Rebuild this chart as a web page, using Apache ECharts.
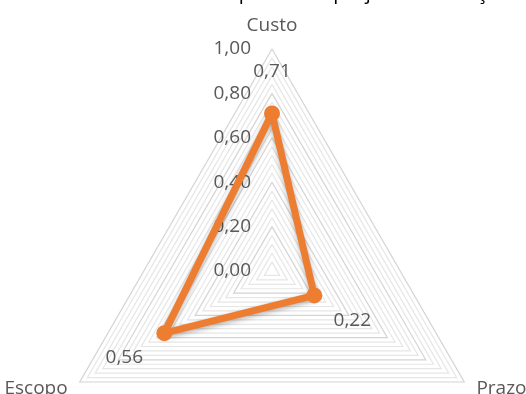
<!DOCTYPE html>
<html>
<head>
<meta charset="utf-8">
<script src="https://cdn.jsdelivr.net/npm/echarts@6/dist/echarts.min.js"></script>
<style>
  html, body { margin: 0; padding: 0; background: #fff; }
  #chart { width: 526px; height: 394px; }
</style>
</head>
<body>
<div id="chart"></div>
<script>
  const TITLE = 'Indicadores de desempenho do projeto em relação ao planejado';
  const INDICATORS = ['Custo', 'Escopo', 'Prazo'];
  const VALUES = [0.71, 0.56, 0.22];
  const TICKS = [0, 0.2, 0.4, 0.6, 0.8, 1.0];
  // where each data label sits relative to its point (rich key per indicator)
  const LABEL_KEYS = ['up', 'downLeft', 'downRight'];

  const fmt = v => v.toFixed(2).replace('.', ',');
  const FONT = '"Open Sans", "Noto Sans", sans-serif';
  const GRAY = '#595959';

  const C = [272, 271];
  const R = 222;

  // 0.04 steps, darker ring every 0.20
  const splitColors = ['#d4d4d4', '#e6e6e6', '#e6e6e6', '#e6e6e6', '#e6e6e6'];

  let chart = echarts.init(document.getElementById('chart'));
  let option = {
    backgroundColor: '#fff',
    animation: false,
    graphic: [{
      type: 'text',
      left: 33,
      top: -17,
      style: { text: TITLE, font: '20px ' + FONT, fill: '#000' }
    }],
    radar: {
      center: C,
      radius: R,
      startAngle: 90,
      shape: 'polygon',
      splitNumber: 25,
      indicator: INDICATORS.map(n => ({ name: n, min: 0, max: 1 })),
      nameGap: 14,
      axisName: { color: GRAY, fontSize: 19, fontFamily: FONT },
      axisLine: { show: false },
      axisTick: { show: false },
      axisLabel: { show: false },
      splitArea: { show: false },
      splitLine: { lineStyle: { color: splitColors, width: 1.2 } }
    },
    // vertical value axis along the Custo spoke, only used for its tick labels
    grid: { left: C[0] - 14, top: C[1] - R, width: 10, height: R },
    xAxis: { type: 'value', show: false },
    yAxis: {
      type: 'value',
      min: TICKS[0],
      max: TICKS[TICKS.length - 1],
      interval: 0.2,
      axisLine: { show: false },
      axisTick: { show: false },
      splitLine: { show: false },
      axisLabel: {
        margin: 7,
        color: GRAY,
        fontSize: 19,
        fontFamily: FONT,
        formatter: v => fmt(v)
      }
    },
    series: [{
      type: 'radar',
      symbol: 'circle',
      symbolSize: 16,
      itemStyle: { color: '#ED7D31' },
      lineStyle: {
        color: '#ED7D31',
        width: 7,
        shadowBlur: 5,
        shadowColor: 'rgba(0,0,0,0.3)',
        shadowOffsetY: 2
      },
      label: {
        show: true,
        position: 'inside',
        formatter: p => {
          const i = VALUES.indexOf(p.value);
          return '{' + LABEL_KEYS[i] + '|' + fmt(p.value) + '}';
        },
        rich: {
          up: { color: GRAY, fontSize: 19, fontFamily: FONT, padding: [0, 0, 84, 0] },
          downLeft: { color: GRAY, fontSize: 19, fontFamily: FONT, padding: [48, 80, 0, 0] },
          downRight: { color: GRAY, fontSize: 19, fontFamily: FONT, padding: [50, 0, 0, 76] }
        }
      },
      data: [{ value: VALUES, name: 'Indicadores' }]
    }]
  };
  chart.setOption(option);
</script>
</body>
</html>
